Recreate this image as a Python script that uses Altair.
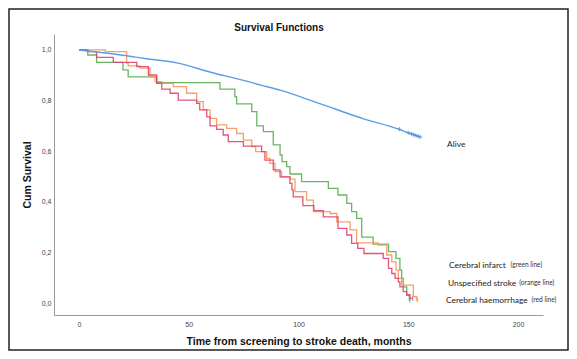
import altair as alt
import pandas as pd

# ---- Kaplan-Meier step curves (time in months, cumulative survival) ----
green_t = [0, 4, 8, 20, 22.4, 35.4, 64.2, 71, 71.8, 78.7, 81, 84, 88.5, 91.6, 92.5, 94.6, 96.1,
           101.4, 113.6, 118, 122, 124.2, 126.5, 128.8, 134, 141, 144.4, 146.2, 147, 147.7,
           149.3, 150.5, 151]
green_s = [1.0, 0.98, 0.951, 0.921, 0.894, 0.871, 0.845, 0.816, 0.787, 0.756, 0.70, 0.677,
           0.625, 0.585, 0.559, 0.539, 0.51, 0.48, 0.453, 0.427, 0.394, 0.361, 0.335, 0.261,
           0.233, 0.203, 0.177, 0.13, 0.099, 0.064, 0.032, 0.012, 0.012]

orange_t = [0, 12, 21.7, 22.4, 27.8, 32.3, 34.6, 37.7, 43, 49, 53.6, 56.6, 59.7, 62.7, 67.3,
            71.8, 74.9, 78.7, 80.5, 85.5, 87, 89.3, 92.3, 96.1, 98.4, 103.7, 106.8, 114.4,
            117.4, 123.5, 126.5, 136.2, 140.2, 142.5, 144.4, 145.5, 147, 152.3, 153.8, 154.5]
orange_s = [1.0, 0.993, 0.948, 0.937, 0.928, 0.894, 0.875, 0.868, 0.855, 0.829, 0.796, 0.763,
            0.73, 0.704, 0.69, 0.67, 0.644, 0.618, 0.598, 0.572, 0.552, 0.519, 0.499, 0.49,
            0.44, 0.407, 0.361, 0.354, 0.321, 0.289, 0.238, 0.229, 0.19, 0.163, 0.13, 0.098,
            0.071, 0.025, 0.012, 0.012]

red_t = [0, 4, 8, 15.6, 26.3, 31.6, 35.4, 37.7, 41.5, 45.2, 53.6, 55, 58.2, 59.7, 62.7, 65.7,
         68, 74.9, 83.2, 84.7, 88.5, 91.6, 96.1, 97, 97.6, 102, 107, 111.3, 118, 122, 124.2,
         127, 129.8, 138.6, 141, 142.5, 144, 145.5, 146.2, 147.7, 149.3, 150.8, 152]
red_s = [1.0, 0.993, 0.971, 0.951, 0.934, 0.901, 0.868, 0.845, 0.829, 0.802, 0.789, 0.763,
         0.736, 0.70, 0.686, 0.664, 0.638, 0.62, 0.598, 0.565, 0.526, 0.499, 0.473, 0.447,
         0.42, 0.385, 0.365, 0.341, 0.295, 0.269, 0.236, 0.216, 0.196, 0.177, 0.137, 0.117,
         0.098, 0.084, 0.064, 0.045, 0.032, 0.019, 0.019]

# ---- Alive (smooth curve) ----
alive_t = [0, 10, 20, 30, 45, 60, 75, 82.5, 92, 110, 130, 145, 150, 155.5]
alive_s = [1.0, 0.99, 0.979, 0.966, 0.948, 0.912, 0.88, 0.862, 0.84, 0.787, 0.727, 0.689,
           0.673, 0.656]

# censored observations
alive_cens_t = [146, 150, 151.5, 152.5, 153.5, 154.5, 155.5]
alive_cens_s = [0.687, 0.673, 0.668, 0.665, 0.662, 0.659, 0.656]
end_cens_series = ["Cerebral infarct", "Cerebral haemorrhage", "Unspecified stroke"]
end_cens_t = [150.8, 152, 154.3]
end_cens_s = [0.012, 0.019, 0.012]

series_names = ["Cerebral infarct", "Unspecified stroke", "Cerebral haemorrhage"]
series_colors = ["#5aad50", "#f7955b", "#e0436d"]

# ---- labels ----
chart_title = "Survival Functions"
label_main = ["Alive", "Cerebral infarct", "Unspecified stroke", "Cerebral haemorrhage"]
label_t = [167.7, 168.6, 168.1, 167.2]
label_s = [0.628, 0.150, 0.079, 0.012]
label_note = ["(green line)", "(orange line)", "(red line)"]
note_t = [196.6, 200.6, 206.2]
note_s = [0.150, 0.079, 0.012]

x_ticks = [0, 50, 100, 150, 200]
y_ticks = [0.0, 0.2, 0.4, 0.6, 0.8, 1.0]

rows = []
for name, ts, ss in zip(series_names, [green_t, orange_t, red_t], [green_s, orange_s, red_s]):
    for t, s in zip(ts, ss):
        rows.append({"series": name, "t": t, "s": s})
steps_df = pd.DataFrame(rows)
alive_df = pd.DataFrame({"t": alive_t, "s": alive_s})
alive_cens_df = pd.DataFrame({"t": alive_cens_t, "s": alive_cens_s})
end_cens_df = pd.DataFrame({"series": end_cens_series, "t": end_cens_t, "s": end_cens_s})
labels_df = pd.DataFrame({"label": label_main, "t": label_t, "s": label_s})
notes_df = pd.DataFrame({"label": label_note, "t": note_t, "s": note_s})

FONT = "Liberation Sans"
x_scale = alt.Scale(domain=[-11.4, 211.4], nice=False, zero=False)
y_scale = alt.Scale(domain=[-0.047, 1.063], nice=False, zero=False)
color_scale = alt.Scale(domain=series_names, range=series_colors)

x_enc = alt.X("t:Q", scale=x_scale,
              axis=alt.Axis(values=x_ticks, title="Time from screening to stroke death, months",
                            titleFontSize=10.5, titleFontWeight="bold", titleColor="#111",
                            titleFont=FONT, titlePadding=9, labelPadding=5))
y_enc = alt.Y("s:Q", scale=y_scale,
              axis=alt.Axis(values=y_ticks, title="Cum Survival",
                            labelExpr="replace(format(datum.value, '.1f'), '.', ',')",
                            titleFontSize=10.5, titleFontWeight="bold", titleColor="#111",
                            titleFont=FONT, titlePadding=9, labelPadding=3))

frame = alt.Chart(pd.DataFrame({"a": [0]})).mark_rect(
    fill=None, stroke="#222", strokeWidth=1.5
).encode(x=alt.value(-45), x2=alt.value(514), y=alt.value(-25), y2=alt.value(316))

title = alt.Chart(pd.DataFrame({"label": [chart_title]})).mark_text(
    font=FONT, fontSize=10, fontWeight="bold", color="#111", align="center", baseline="middle"
).encode(x=alt.value(225), y=alt.value(-6), text="label:N")

steps = alt.Chart(steps_df).mark_line(interpolate="step-after", strokeWidth=1.3, opacity=0.9).encode(
    x=x_enc, y=y_enc,
    color=alt.Color("series:N", scale=color_scale, legend=None),
)

alive = alt.Chart(alive_df).mark_line(color="#5a9de6", strokeWidth=1.4, interpolate="monotone").encode(
    x="t:Q", y="s:Q"
)

alive_cens = alt.Chart(alive_cens_df).mark_point(
    shape="M-1,0L1,0M0,-1L0,1", size=20, filled=False, color="#4a8fe0", strokeWidth=1
).encode(x="t:Q", y="s:Q")

end_cens = alt.Chart(end_cens_df).mark_point(
    shape="M0,-1L0,1", size=30, filled=False, strokeWidth=1
).encode(x="t:Q", y="s:Q", color=alt.Color("series:N", scale=color_scale, legend=None))

labels = alt.Chart(labels_df).mark_text(
    align="left", baseline="middle", font="Lato", fontSize=8.4, color="#222"
).encode(x="t:Q", y="s:Q", text="label:N")

notes = alt.Chart(notes_df).mark_text(
    align="left", baseline="middle", font="Lato", fontSize=6.6, color="#333"
).encode(x="t:Q", y="s:Q", text="label:N")

chart = alt.layer(frame, title, steps, alive, alive_cens, end_cens, labels, notes).properties(
    width=489, height=281,
    autosize="none",
    padding={"left": 46, "top": 26, "right": 26, "bottom": 36},
).configure_axis(
    grid=False, ticks=False, domainColor="#9a9a9a", domainWidth=1,
    labelFont=FONT, labelFontSize=7, labelColor="#444",
).configure_view(stroke=None)

chart.save("out.html", embed_options={"renderer": "svg", "actions": False})
